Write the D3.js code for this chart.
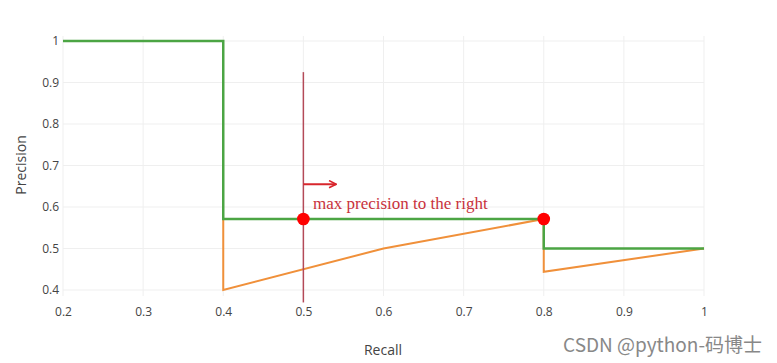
<!DOCTYPE html>
<html><head><meta charset="utf-8">
<script src="https://cdn.jsdelivr.net/npm/d3@7"></script>
<style>body{margin:0;background:#fff}svg{display:block}</style>
</head><body>
<svg id="c" width="777" height="363"></svg>
<script>
const xTicks = [0.2,0.3,0.4,0.5,0.6,0.7,0.8,0.9,1];
const yTicks = [0.4,0.5,0.6,0.7,0.8,0.9,1];
const interpRecall = [0.2,0.4,0.4,0.8,0.8,1.0];
const interpPrecision = [1,1,0.571,0.571,0.5,0.5];
const rawRecall = [0.4,0.4,0.6,0.8,0.8,1.0];
const rawPrecision = [0.571,0.4,0.5,0.571,0.444,0.5];
const dotRecall = [0.5,0.8];
const dotPrecision = [0.571,0.571];
const markerRecall = 0.5;
const markerRange = [0.925,0.37];
const annotationText = "max precision to the right";

const svg = d3.select("#c");
const x = d3.scaleLinear().domain([0.2,1]).range([63,704]);
const y = d3.scaleLinear().domain([0.4,1]).range([290,41]);
const grid = "#efefef";

svg.append("g").selectAll("line").data(xTicks).join("line")
  .attr("x1",d=>x(d)).attr("x2",d=>x(d)).attr("y1",36).attr("y2",296)
  .attr("stroke",grid).attr("stroke-width",1);
svg.append("g").selectAll("line").data(yTicks).join("line")
  .attr("x1",63).attr("x2",704).attr("y1",d=>y(d)).attr("y2",d=>y(d))
  .attr("stroke",grid).attr("stroke-width",1);

const font = "'Open Sans', 'Noto Sans', sans-serif";
const xa = svg.append("g").attr("transform","translate(0,296)")
  .call(d3.axisBottom(x).tickValues(xTicks).tickFormat(d3.format("~g")).tickSize(0).tickPadding(11));
const ya = svg.append("g").attr("transform","translate(59,0)")
  .call(d3.axisLeft(y).tickValues(yTicks).tickFormat(d3.format("~g")).tickSize(0).tickPadding(0));
[xa,ya].forEach(a=>{a.select(".domain").remove();
  a.selectAll("text").attr("fill","#444").style("font-family",font).style("font-size","12px");});

svg.append("text").attr("x",383).attr("y",355).attr("text-anchor","middle")
  .attr("fill","#444").style("font-family",font).style("font-size","14px").text("Recall");
svg.append("text").attr("transform","translate(26,165) rotate(-90)").attr("text-anchor","middle")
  .attr("fill","#444").style("font-family",font).style("font-size","14px").text("Precision");

const line = d3.line().x(d=>x(d[0])).y(d=>y(d[1]));
svg.append("path").datum(rawRecall.map((r,i)=>[r,rawPrecision[i]]))
  .attr("d",line).attr("fill","none").attr("stroke","#f0903a").attr("stroke-width",2);
svg.append("path").datum(interpRecall.map((r,i)=>[r,interpPrecision[i]]))
  .attr("d",line).attr("fill","none").attr("stroke","#4ca544").attr("stroke-width",2.5);

svg.append("line").attr("x1",x(markerRecall)).attr("x2",x(markerRecall))
  .attr("y1",y(markerRange[0])).attr("y2",y(markerRange[1]))
  .attr("stroke","#b44a58").attr("stroke-width",1.5);

svg.append("defs").append("marker").attr("id","ah").attr("viewBox","0 0 10 10")
  .attr("refX",9).attr("refY",5).attr("markerWidth",9).attr("markerHeight",9)
  .attr("markerUnits","userSpaceOnUse").attr("orient","auto")
  .append("path").attr("d","M1,1 L9,5 L1,9").attr("fill","none").attr("stroke","#d8262c").attr("stroke-width",1.8);
svg.append("line").attr("x1",x(markerRecall)).attr("x2",x(0.541))
  .attr("y1",y(0.655)).attr("y2",y(0.655))
  .attr("stroke","#d8262c").attr("stroke-width",2).attr("marker-end","url(#ah)");

svg.append("text").attr("x",313).attr("y",209).attr("fill","#c8323c")
  .style("font-family","'Liberation Serif', 'DejaVu Serif', serif").style("font-size","17px").text(annotationText);

svg.append("g").selectAll("circle").data(dotRecall.map((r,i)=>[r,dotPrecision[i]])).join("circle")
  .attr("cx",d=>x(d[0])).attr("cy",d=>y(d[1])).attr("r",6.3).attr("fill","#ff0000");

svg.append("text").attr("x",762).attr("y",352).attr("text-anchor","end").attr("fill","#888")
  .style("font-family","'Noto Sans CJK SC', 'Noto Sans', sans-serif").style("font-size","19px").text("CSDN @python-码博士");
</script>
</body></html>
